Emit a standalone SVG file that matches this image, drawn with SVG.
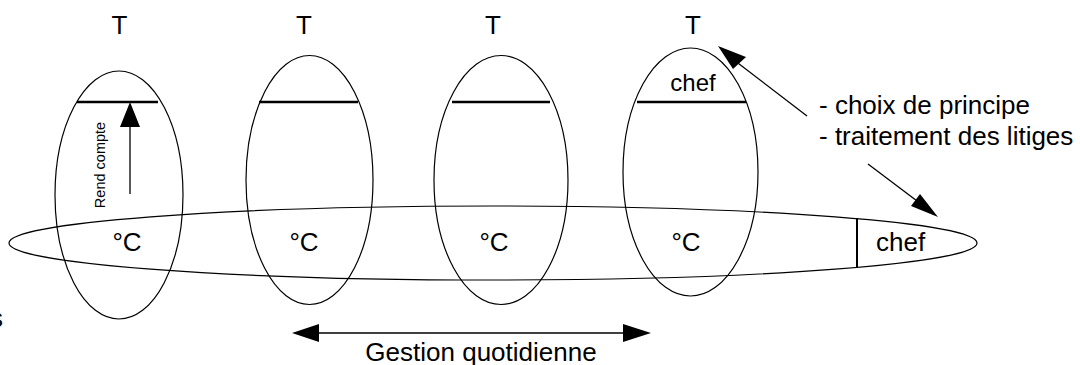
<svg xmlns="http://www.w3.org/2000/svg" width="1080" height="365" viewBox="0 0 1080 365">
<style>
text{font-family:"Liberation Sans",Arial,sans-serif;fill:#000}
.lbl{font-size:26px}
.mid{text-anchor:middle}
.ell{fill:none;stroke:#000;stroke-width:1.2}
.bar{stroke:#000;stroke-width:2.5}
.ln{stroke:#000;stroke-width:1.3;fill:none}
.head{fill:#000}
</style>
<rect width="1080" height="365" fill="#fff"/>
<g id="team1">
<ellipse class="ell" cx="119" cy="195" rx="64" ry="124"/>
<line class="bar" x1="77" y1="102" x2="158" y2="102"/>
<text class="lbl mid" x="119.5" y="34">T</text>
<text class="lbl mid" x="127" y="251">°C</text>
<text x="0" y="0" font-size="14.5" text-anchor="middle" transform="translate(105,165) rotate(-90)">Rend compte</text>
</g>
<g id="team2">
<ellipse class="ell" cx="309.5" cy="180" rx="63.5" ry="124.5"/>
<line class="bar" x1="259" y1="102" x2="358" y2="102"/>
<text class="lbl mid" x="304" y="34">T</text>
<text class="lbl mid" x="304" y="251">°C</text>
</g>
<g id="team3">
<ellipse class="ell" cx="501" cy="180" rx="67" ry="124.5"/>
<line class="bar" x1="452" y1="102" x2="550" y2="102"/>
<text class="lbl mid" x="493" y="34">T</text>
<text class="lbl mid" x="494" y="251">°C</text>
</g>
<g id="team4">
<ellipse class="ell" cx="690.5" cy="172" rx="67.5" ry="124"/>
<line class="bar" x1="637" y1="102" x2="746" y2="102"/>
<text class="lbl mid" x="693" y="34">T</text>
<text class="mid" font-size="24" x="693" y="91">chef</text>
<text class="lbl mid" x="686" y="251">°C</text>
</g>
<g id="group">
<ellipse class="ell" cx="493" cy="243" rx="484" ry="37"/>
<line stroke="#000" stroke-width="2" x1="857" y1="218" x2="857" y2="267"/>
<text class="lbl" x="876" y="251">chef</text>
</g>
<g id="notes">
<text class="lbl" x="819" y="114">- choix de principe</text>
<text class="lbl" x="819" y="145">- traitement des litiges</text>
<text class="lbl mid" x="481" y="361">Gestion quotidienne</text>
<text class="lbl" x="-10" y="327">s</text>
</g>
<g id="connectors">
<line class="ln" x1="130" y1="194" x2="130" y2="120"/>
<polygon class="head" points="130,102 120,127 140,127"/>
<line class="ln" x1="807" y1="116" x2="730" y2="57"/>
<polygon class="head" points="718,46 733,69 746,57"/>
<line class="ln" x1="868" y1="164" x2="925" y2="207"/>
<polygon class="head" points="938,217 911,206 920,194"/>
<line class="ln" x1="310" y1="333" x2="635" y2="333"/>
<polygon class="head" points="292,333 319,324 319,342"/>
<polygon class="head" points="651,333 623,324 623,342"/>
</g>
</svg>
